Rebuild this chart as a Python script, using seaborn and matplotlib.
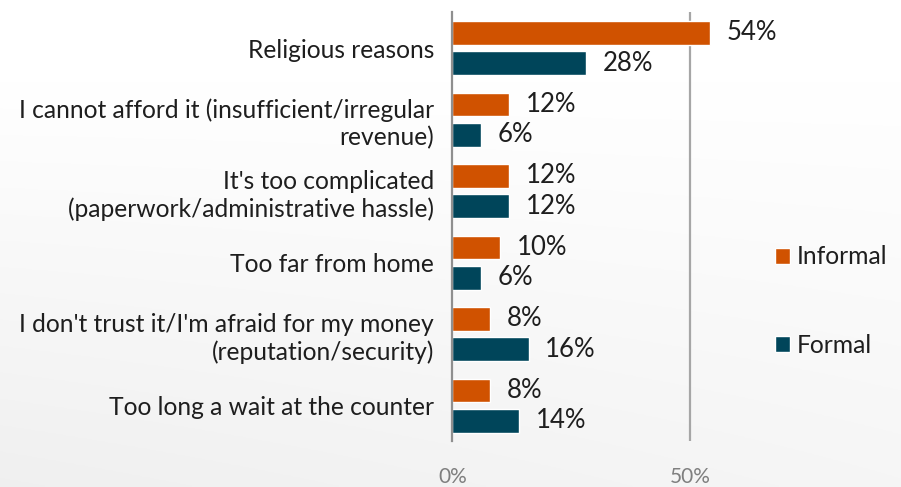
import numpy as np
import pandas as pd
import matplotlib
matplotlib.use("Agg")
import matplotlib.pyplot as plt
import seaborn as sns

# Reasons for not using a bank account, by type of financial service
reasons = [
    "Religious reasons",
    "I cannot afford it (insufficient/irregular\nrevenue)",
    "It's too complicated\n(paperwork/administrative hassle)",
    "Too far from home",
    "I don't trust it/I'm afraid for my money\n(reputation/security)",
    "Too long a wait at the counter",
]
informal = [54, 12, 12, 10, 8, 8]
formal = [28, 6, 12, 6, 16, 14]
series_names = ["Informal", "Formal"]
x_ticks = [0, 50]
x_tick_labels = ["0%", "50%"]

ORANGE = "#D05200"
TEAL = "#00455A"
AXIS_GRAY = "#8f8f8f"
TEXT = "#1e1e1e"
FS = 17.7

sns.set_style("white")
plt.rcParams["font.family"] = ["Lato", "DejaVu Sans"]

df = pd.DataFrame({
    "reason": reasons * 2,
    "pct": informal + formal,
    "type": [series_names[0]] * len(reasons) + [series_names[1]] * len(reasons),
})

fig = plt.figure(figsize=(9.01, 4.87), dpi=100)
fig.patch.set_facecolor("white")

# soft grey wash toward the bottom of the slide background
bg = fig.add_axes([0, 0, 1, 1], zorder=-10)
yy = np.linspace(0, 1, 200)[:, None]
xx = np.linspace(0, 1, 300)[None, :]
shade = 1 - 0.06 * np.clip(yy * 1.2 - 0.2, 0, 1) * (1 - 0.4 * xx)
bg.imshow(np.dstack([shade] * 3), extent=[0, 1, 0, 1], aspect="auto",
          vmin=0, vmax=1)
bg.axis("off")

ax = fig.add_axes([452.3 / 901, 45.7 / 487, (750 - 452.3) / 901, 429 / 487])
ax.set_facecolor("none")

sns.barplot(data=df, y="reason", x="pct", hue="type", orient="h",
            palette=[ORANGE, TEAL], saturation=1, width=0.85, gap=0.22,
            ax=ax, legend=True)

for cont, vals in zip(ax.containers, [informal, formal]):
    ax.bar_label(cont, labels=[f"{v}%" for v in vals], padding=12,
                 fontsize=18.5, color=TEXT)

ax.set_xlim(0, 62.5)
ax.set_ylim(5.5, -0.5)
ax.set_xlabel("")
ax.set_ylabel("")

ax.set_xticks(x_ticks)
ax.set_xticklabels(x_tick_labels)
ax.tick_params(axis="x", length=0, pad=18.5, labelsize=15, labelcolor="#7f7f7f")
ax.axvline(50, color="#a6a6a6", lw=1.6, zorder=0)

ax.set_yticks(range(len(reasons)))
ax.set_yticklabels(reasons, fontsize=FS, color=TEXT, linespacing=1.22)
ax.tick_params(axis="y", which="major", length=0, pad=13)
ax.set_yticks(np.arange(-0.5, len(reasons), 1), minor=True)
ax.tick_params(axis="y", which="minor", length=6.5, width=1.5, color=AXIS_GRAY)

for side in ["top", "right", "bottom"]:
    ax.spines[side].set_visible(False)
ax.spines["left"].set_color(AXIS_GRAY)
ax.spines["left"].set_linewidth(1.6)

handles, labels = ax.get_legend_handles_labels()
ax.legend(handles, labels, loc="center left",
          bbox_to_anchor=(775 / 901, (487 - 301) / 487),
          bbox_transform=fig.transFigure, frameon=False, fontsize=FS,
          handlelength=0.6, handleheight=0.6, handletextpad=0.3,
          labelspacing=2.65, borderpad=0, borderaxespad=0, labelcolor=TEXT)

fig.savefig("out.png", dpi=100)
